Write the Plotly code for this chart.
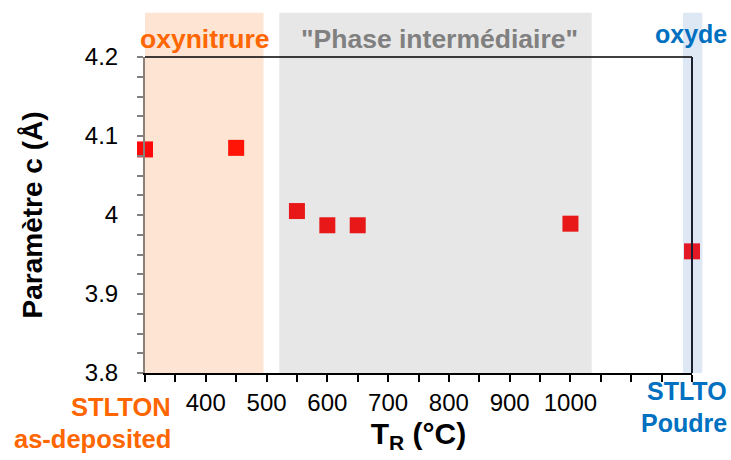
import plotly.graph_objects as go

# Data
temps = [300, 450, 550, 600, 650, 1000, 1200]
c_param = [4.083, 4.085, 4.005, 3.987, 3.987, 3.989, 3.954]
marker_colors = ["#ff0a0a", "#ff1405", "#e81818", "#e81818", "#e81818", "#e81818", "#e31a25"]
x_tickvals = [400, 500, 600, 700, 800, 900, 1000]
y_tickvals = [3.8, 3.9, 4.0, 4.1, 4.2]
y_ticktext = ["3.8", "3.9", "4", "4.1", "4.2"]
x_range = [300, 1200]
regions = [  # (x0, x1, color) in data units (°C)
    (300, 495, "#fde4d3"),
    (521, 1035, "#e7e7e7"),
    (1185, 1217, "#dee8f5"),
]

FONT = "Liberation Sans, Arial, sans-serif"
ORANGE = "#ff6600"
GRAY = "#808080"
BLUE = "#0070c0"

fig = go.Figure()
fig.add_trace(go.Scatter(
    x=temps, y=c_param, mode="markers",
    marker=dict(symbol="square", size=16, color=marker_colors, line=dict(width=0)),
    cliponaxis=False, showlegend=False,
))

span = x_range[1] - x_range[0]
shapes = []
for x0, x1, col in regions:
    shapes.append(dict(type="rect", xref="paper", yref="paper",
                       x0=(x0 - x_range[0]) / span, x1=(x1 - x_range[0]) / span, y0=0, y1=1.14,
                       fillcolor=col, line=dict(width=0), layer="below"))
# frame top and right
shapes.append(dict(type="line", xref="paper", yref="paper", x0=0, x1=1, y0=1, y1=1,
                   line=dict(color="black", width=1.5)))
shapes.append(dict(type="line", xref="paper", yref="paper", x0=1, x1=1, y0=0, y1=1,
                   line=dict(color="#1a2030", width=2)))

def ann(text, x, y, xref, size, color, xanchor="center"):
    return dict(text=f"<b>{text}</b>", x=x, y=y, xref=xref, yref="paper", showarrow=False,
                font=dict(family=FONT, size=size, color=color), xanchor=xanchor, yanchor="middle")

annotations = [
    ann("oxynitrure", 399, 1.058, "x", 26.5, ORANGE),
    ann("\"Phase intermédiaire\"", 785, 1.058, "x", 26.5, GRAY),
    ann("oxyde", 1.068, 1.073, "paper", 25, BLUE, "right"),
    ann("STLTON", 0.051, -0.108, "paper", 25.5, ORANGE, "right"),
    ann("as-deposited", 0.051, -0.208, "paper", 25.5, ORANGE, "right"),
    ann("STLTO", 1.067, -0.058, "paper", 25, BLUE, "right"),
    ann("Poudre", 1.067, -0.158, "paper", 25, BLUE, "right"),
]

fig.update_layout(
    width=731, height=460,
    margin=dict(l=145, r=39, t=57, b=87),
    paper_bgcolor="white", plot_bgcolor="rgba(0,0,0,0)",
    font=dict(family=FONT, size=24, color="black"),
    shapes=shapes, annotations=annotations,
    xaxis=dict(
        range=x_range, tickvals=x_tickvals, ticktext=[str(v) for v in x_tickvals],
        ticks="outside", ticklen=7, tickcolor="black", tickwidth=1.5,
        minor=dict(tick0=300, dtick=50, ticks="outside", ticklen=7, tickcolor="black", tickwidth=1.5),
        showline=True, linecolor="black", linewidth=2, showgrid=False, zeroline=False,
        tickfont=dict(size=24, family=FONT),
        title=dict(text="<b>T<sub>R</sub> (°C)</b>", font=dict(size=30, family=FONT), standoff=8),
    ),
    yaxis=dict(
        range=[3.8, 4.2], tickvals=y_tickvals, ticktext=y_ticktext,
        ticks="outside", ticklen=6, tickcolor=GRAY, tickwidth=1.5,
        minor=dict(tick0=3.8, dtick=0.025, ticks="outside", ticklen=6, tickcolor=GRAY, tickwidth=1.5),
        showline=True, linecolor="#8a8077", linewidth=2, showgrid=False, zeroline=False,
        tickfont=dict(size=24, family=FONT), ticklabelstandoff=14,
        title=dict(text="<b>Paramètre c (Å)</b>", font=dict(size=28, family=FONT), standoff=34),
    ),
)

fig.write_html("out.html", config={"displayModeBar": False},
               post_script="document.body.style.margin='0';")
